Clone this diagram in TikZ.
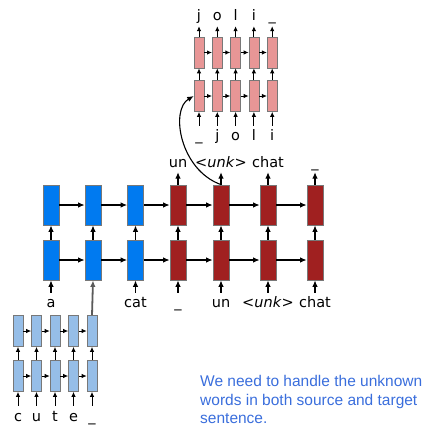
\documentclass[tikz,border=0pt]{standalone}
\usepackage{fontspec}
\setmainfont{DejaVu Sans}
\newfontfamily\notefont{Liberation Sans}
\usetikzlibrary{arrows.meta}
\definecolor{encblue}{RGB}{0,122,240}
\definecolor{decred}{RGB}{160,32,32}
\definecolor{charblue}{RGB}{150,190,232}
\definecolor{charpink}{RGB}{232,150,150}
\definecolor{cellrim}{RGB}{120,120,120}
\definecolor{linkgray}{RGB}{90,90,90}
\definecolor{notecol}{RGB}{58,110,220}

\begin{document}
\begin{tikzpicture}[x=1pt,y=-1pt,
  cell/.style={draw=cellrim, line width=0.8pt, inner sep=0, minimum width=16pt, minimum height=40pt},
  enc/.style={cell, fill=encblue},
  dec/.style={cell, fill=decred},
  mini/.style={draw=cellrim, line width=0.6pt, inner sep=0, minimum width=10pt, minimum height=31pt},
  chr/.style={mini, fill=charblue},
  pnk/.style={mini, fill=charpink},
  word/.style={font=\fontsize{14.5}{16}\selectfont, inner sep=0, text height=9pt, text depth=3pt, anchor=base},
  flow/.style={-{Latex[length=6.5pt,width=5.5pt]}, line width=1.1pt},
  sflow/.style={-{Latex[length=5pt,width=4.5pt]}, line width=0.9pt},
]
\useasboundingbox (0,0) rectangle (427,426);

% word-level encoder (blue) and decoder (red), two layers each
\foreach \i/\x in {1/51,2/93,3/135.5} {
  \node[enc] (t\i) at (\x,205) {};
  \node[enc] (b\i) at (\x,260) {};
}
\foreach \i/\x in {4/178,5/221,6/268,7/315} {
  \node[dec] (t\i) at (\x,205) {};
  \node[dec] (b\i) at (\x,260) {};
}
\foreach \i/\j in {1/2,2/3,3/4,4/5,5/6,6/7} {
  \draw[flow] (t\i) -- (t\j);
  \draw[flow] (b\i) -- (b\j);
}
\foreach \i in {1,...,7} {
  \draw[flow] (b\i) -- (t\i);
}

% input words
\node[word] (w1) at (51,307) {a};
\node[word] (w3) at (135.5,307) {cat};
\node[word] (w4) at (178,307) {\_};
\node[word] (w5) at (221,307) {un};
\node[word] (w6) at (268,307) {<\textit{unk}>};
\node[word] (w7) at (315,307) {chat};
\foreach \i in {1,3,4,5,6,7} {
  \draw[flow, shorten <=5pt] (w\i.north) -- (b\i.south);
}

% output words
\node[word] (u4) at (178,167) {un};
\node[word] (u5) at (221,167) {<\textit{unk}>};
\node[word] (u6) at (268,167) {chat};
\node[word] (u7) at (315,167) {\_};
\foreach \i in {4,...,7} {
  \draw[flow, shorten >=2pt] (t\i.north) -- (u\i.south);
}

% character-level encoder for the rare source word
\foreach \i/\x/\c in {1/18/c,2/36.5/u,3/55/t,4/73.5/e,5/92/\_} {
  \node[chr] (ct\i) at (\x,331) {};
  \node[chr] (cb\i) at (\x,376) {};
  \node[word] (cw\i) at (\x,421) {\c};
  \draw[sflow] (cb\i) -- (ct\i);
  \draw[sflow, shorten <=6pt] (cw\i.north) -- (cb\i.south);
}
\foreach \i/\j in {1/2,2/3,3/4,4/5} {
  \draw[sflow] (ct\i) -- (ct\j);
  \draw[sflow] (cb\i) -- (cb\j);
}
\draw[-{Latex[length=6.5pt,width=5.5pt]}, line width=1.8pt, draw=linkgray] (ct5.north) -- (b2.south);

% character-level decoder for the generated rare word
\foreach \i/\x/\a/\b in {1/199/\_/j,2/217.3/j/o,3/235.6/o/l,4/253.9/l/i,5/272.2/i/\_} {
  \node[pnk] (pt\i) at (\x,52.5) {};
  \node[pnk] (pb\i) at (\x,96) {};
  \node[word] (pi\i) at (\x,140) {\a};
  \node[word] (po\i) at (\x,20) {\b};
  \draw[sflow] (pb\i) -- (pt\i);
  \draw[sflow, shorten <=5pt] (pi\i.north) -- (pb\i.south);
  \draw[sflow, shorten >=3pt] (pt\i.north) -- (po\i.south);
}
\foreach \i/\j in {1/2,2/3,3/4,4/5} {
  \draw[sflow] (pt\i) -- (pt\j);
  \draw[sflow] (pb\i) -- (pb\j);
}
\draw[flow] (t5.north) .. controls (180,170) and (170,110) .. (pb1.west);

% note
\node[anchor=north west, inner sep=0, align=left, text=notecol,
      font=\notefont\fontsize{15.5}{18.3}\selectfont] (note) at (200,375.5)
  {We need to handle the unknown\\words in both source and target\\sentence.};
\end{tikzpicture}
\end{document}
